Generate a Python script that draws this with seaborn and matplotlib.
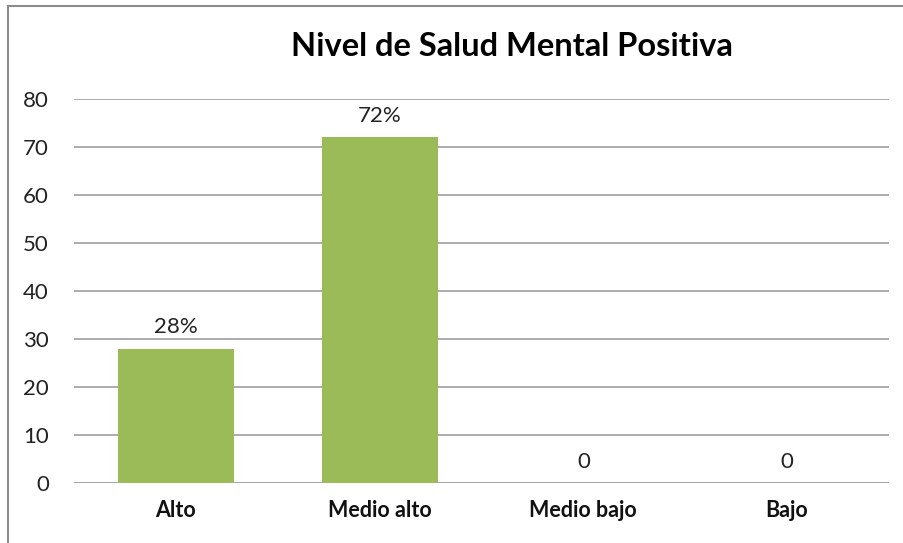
import matplotlib
matplotlib.use("Agg")
import matplotlib.pyplot as plt
import seaborn as sns
import pandas as pd
from matplotlib.patches import Rectangle

categories = ["Alto", "Medio alto", "Medio bajo", "Bajo"]
values = [28, 72, 0, 0]
value_labels = ["28%", "72%", "0", "0"]
y_ticks = [0, 10, 20, 30, 40, 50, 60, 70, 80]
title = "Nivel de Salud Mental Positiva"

sns.set_theme(style="white")
plt.rcParams["font.family"] = ["Lato", "DejaVu Sans"]

df = pd.DataFrame({"cat": categories, "val": values})

fig = plt.figure(figsize=(9.04, 5.43), dpi=100)
ax = fig.add_axes([74 / 904, 1 - 483 / 543, (889 - 74) / 904, (483 - 99) / 543])

sns.barplot(data=df, x="cat", y="val", color="#9BBB59", saturation=1,
            width=0.57, ax=ax, zorder=3, linewidth=0)

ax.set_ylim(0, 80)
ax.set_xlim(-0.5, 3.5)
ax.set_yticks(y_ticks)
ax.yaxis.grid(True, color="#a6a6a6", linewidth=1.3, zorder=0)
ax.set_axisbelow(True)
for s in ax.spines.values():
    s.set_visible(False)
ax.axhline(0, color="#a6a6a6", linewidth=1.3, zorder=1)
ax.set_xlabel("")
ax.set_ylabel("")
ax.tick_params(axis="y", labelsize=16, colors="#222222", length=0, pad=18)
ax.tick_params(axis="x", labelsize=15.5, colors="#111111", length=0, pad=12)
for lbl in ax.get_xticklabels():
    lbl.set_fontweight("bold")

ax.bar_label(ax.containers[0], labels=value_labels, padding=8,
             fontsize=16, color="#222222")

fig.text(512 / 904, 1 - 47 / 543, title, ha="center", va="center",
         fontsize=23.5, fontweight="bold", color="#000000")

fig.patches.append(Rectangle((8 / 904, -0.05), 1.2, 1 - 6 / 543 + 0.05,
                             transform=fig.transFigure, fill=False,
                             edgecolor="#8c8c8c", linewidth=1.5))

fig.savefig("out.png", dpi=100)
